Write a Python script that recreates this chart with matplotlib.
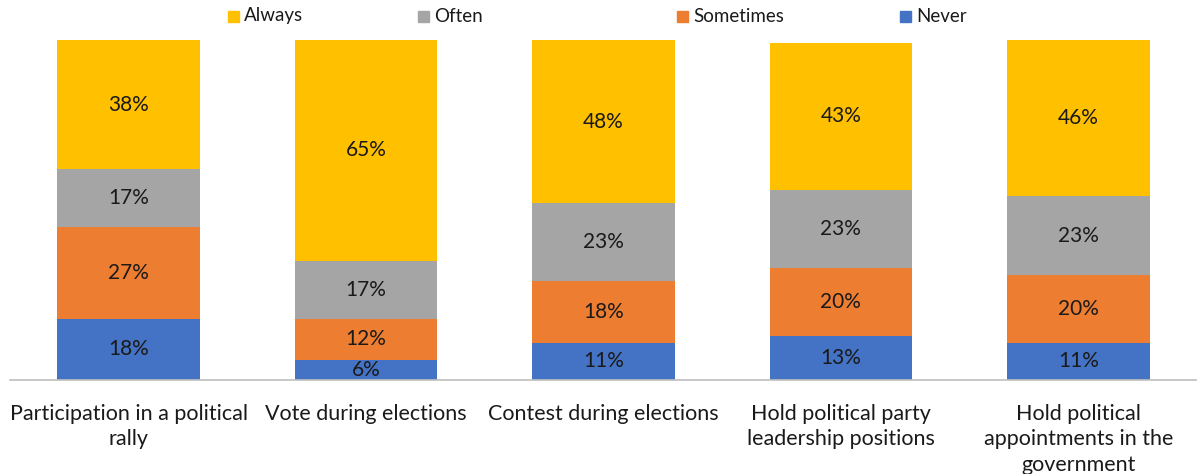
import matplotlib.pyplot as plt
import matplotlib.patches as patches
import numpy as np

plt.rcParams['font.family'] = ['Lato', 'DejaVu Sans']

categories = [
    "Participation in a political\nrally",
    "Vote during elections",
    "Contest during elections",
    "Hold political party\nleadership positions",
    "Hold political\nappointments in the\ngovernment",
]
series_names = ["Never", "Sometimes", "Often", "Always"]
never = [18, 6, 11, 13, 11]
sometimes = [27, 12, 18, 20, 20]
often = [17, 17, 23, 23, 23]
always = [38, 65, 48, 43, 46]

colors = {"Never": "#4472C4", "Sometimes": "#ED7D31", "Often": "#A5A5A5", "Always": "#FFC000"}

W, H = 1197, 474
fig = plt.figure(figsize=(W / 100, H / 100), dpi=100)
ax = fig.add_axes([10 / W, (H - 380) / H, (W - 10) / W, 340 / H])

x = np.arange(len(categories))
bottom = np.zeros(len(categories))
for name, vals in zip(series_names, [never, sometimes, often, always]):
    vals = np.array(vals)
    ax.bar(x, vals, 0.6, bottom=bottom, color=colors[name], zorder=2)
    for xi, b, v in zip(x, bottom, vals):
        ax.text(xi, b + v / 2, f"{v}%", ha='center', va='center', fontsize=15, color='#1a1a1a')
    bottom += vals

ax.set_xlim(-0.5, len(categories) - 0.5)
ax.set_ylim(0, 100)
for s in ['top', 'right', 'left']:
    ax.spines[s].set_visible(False)
ax.spines['bottom'].set_color('#bfbfbf')
ax.spines['bottom'].set_linewidth(1.2)
ax.set_yticks([])
ax.set_xticks(x)
ax.set_xticklabels(categories, fontsize=15.5, color='#1a1a1a', linespacing=1.35)
ax.tick_params(axis='x', length=0, pad=17)

# legend drawn by hand (Excel-style spacing)
legend_pos = {"Always": 228, "Often": 418, "Sometimes": 677, "Never": 900}
for name in ["Always", "Often", "Sometimes", "Never"]:
    px = legend_pos[name]
    fig.patches.append(patches.Rectangle((px / W, (H - 22) / H), 11 / W, 11 / H,
                                         transform=fig.transFigure, color=colors[name]))
    fig.text((px + 16) / W, (H - 16) / H, name, ha='left', va='center',
             fontsize=13.5, color='#1a1a1a')

fig.savefig("out.png", dpi=100)
